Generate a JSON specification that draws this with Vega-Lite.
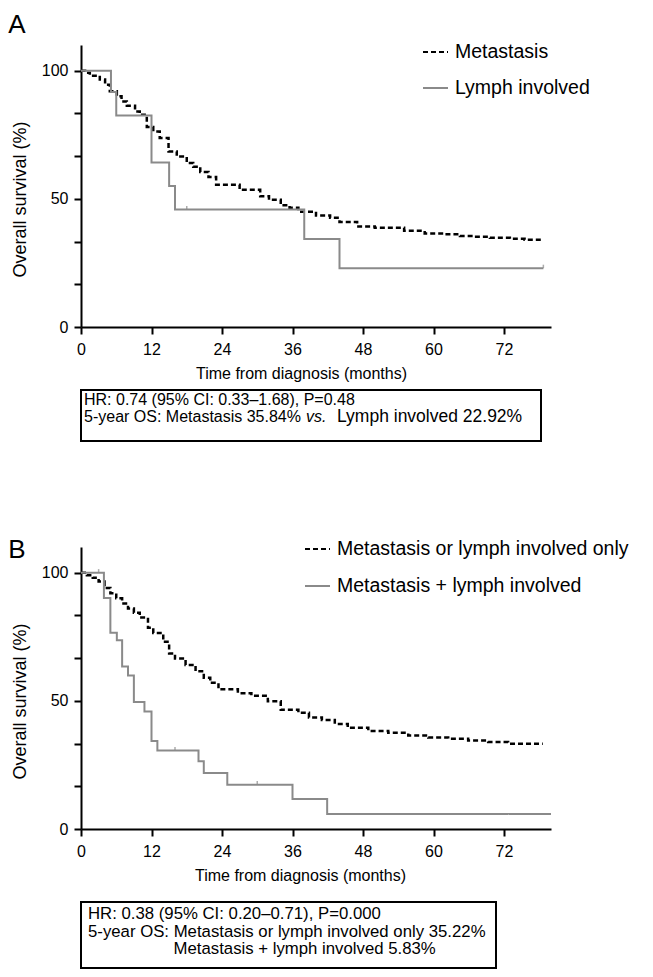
{
  "$schema": "https://vega.github.io/schema/vega-lite/v6.json",
  "background": "white",
  "padding": {"left": 8, "right": 5, "top": 12, "bottom": 5},
  "config": {
    "view": {"stroke": null},
    "font": "Liberation Sans",
    "axis": {
      "domainColor": "black", "domainWidth": 2, "tickColor": "black", "tickWidth": 2,
      "labelColor": "black", "titleColor": "black", "labelFont": "Liberation Sans", "titleFont": "Liberation Sans",
      "titleFontWeight": "normal", "grid": false, "labelFlush": false, "labelOverlap": false
    },
    "legend": {"labelFont": "Liberation Sans", "labelColor": "black", "labelLimit": 400},
    "title": {"font": "Liberation Sans", "fontWeight": "normal", "color": "black", "anchor": "start", "frame": "bounds", "fontSize": 26},
    "text": {"font": "Liberation Sans", "color": "black"}
  },
  "datasets": {
    "km": [
      {"panel":"A","group":"Metastasis","t":0,"s":100},
      {"panel":"A","group":"Metastasis","t":0.7,"s":99.2},
      {"panel":"A","group":"Metastasis","t":1.5,"s":98},
      {"panel":"A","group":"Metastasis","t":3.2,"s":96.5},
      {"panel":"A","group":"Metastasis","t":4.1,"s":94.5},
      {"panel":"A","group":"Metastasis","t":4.9,"s":92},
      {"panel":"A","group":"Metastasis","t":6.1,"s":90},
      {"panel":"A","group":"Metastasis","t":6.9,"s":88},
      {"panel":"A","group":"Metastasis","t":7.8,"s":86.3},
      {"panel":"A","group":"Metastasis","t":9.2,"s":84.1},
      {"panel":"A","group":"Metastasis","t":10,"s":82.8},
      {"panel":"A","group":"Metastasis","t":11.2,"s":78},
      {"panel":"A","group":"Metastasis","t":12.3,"s":76.3},
      {"panel":"A","group":"Metastasis","t":13.4,"s":73.7},
      {"panel":"A","group":"Metastasis","t":14.9,"s":68.5},
      {"panel":"A","group":"Metastasis","t":16.3,"s":66.5},
      {"panel":"A","group":"Metastasis","t":18,"s":64},
      {"panel":"A","group":"Metastasis","t":19.1,"s":62.5},
      {"panel":"A","group":"Metastasis","t":20.3,"s":60.5},
      {"panel":"A","group":"Metastasis","t":21.7,"s":58.5},
      {"panel":"A","group":"Metastasis","t":23,"s":55.5},
      {"panel":"A","group":"Metastasis","t":27,"s":53.5},
      {"panel":"A","group":"Metastasis","t":30.5,"s":51},
      {"panel":"A","group":"Metastasis","t":32,"s":49.6},
      {"panel":"A","group":"Metastasis","t":34,"s":47.5},
      {"panel":"A","group":"Metastasis","t":35.5,"s":46.5},
      {"panel":"A","group":"Metastasis","t":37,"s":45},
      {"panel":"A","group":"Metastasis","t":40,"s":43.5},
      {"panel":"A","group":"Metastasis","t":42.4,"s":42.6},
      {"panel":"A","group":"Metastasis","t":44,"s":41},
      {"panel":"A","group":"Metastasis","t":47,"s":39.2},
      {"panel":"A","group":"Metastasis","t":50,"s":38.7},
      {"panel":"A","group":"Metastasis","t":55,"s":37.5},
      {"panel":"A","group":"Metastasis","t":58.5,"s":36.5},
      {"panel":"A","group":"Metastasis","t":62,"s":36.2},
      {"panel":"A","group":"Metastasis","t":64.5,"s":35.5},
      {"panel":"A","group":"Metastasis","t":67,"s":35.2},
      {"panel":"A","group":"Metastasis","t":69.6,"s":34.8},
      {"panel":"A","group":"Metastasis","t":73,"s":34.4},
      {"panel":"A","group":"Metastasis","t":75.5,"s":34},
      {"panel":"A","group":"Metastasis","t":78.7,"s":34},
      {"panel":"A","group":"Lymph involved","t":0,"s":100},
      {"panel":"A","group":"Lymph involved","t":5.1,"s":91.67},
      {"panel":"A","group":"Lymph involved","t":6,"s":82.5},
      {"panel":"A","group":"Lymph involved","t":12,"s":64.17},
      {"panel":"A","group":"Lymph involved","t":15,"s":55},
      {"panel":"A","group":"Lymph involved","t":16,"s":45.83},
      {"panel":"A","group":"Lymph involved","t":38,"s":34.37},
      {"panel":"A","group":"Lymph involved","t":44,"s":22.92},
      {"panel":"A","group":"Lymph involved","t":78.7,"s":22.92},
      {"panel":"B","group":"Metastasis or lymph involved only","t":0,"s":100},
      {"panel":"B","group":"Metastasis or lymph involved only","t":1,"s":99},
      {"panel":"B","group":"Metastasis or lymph involved only","t":2,"s":98},
      {"panel":"B","group":"Metastasis or lymph involved only","t":3,"s":96.5},
      {"panel":"B","group":"Metastasis or lymph involved only","t":4,"s":94},
      {"panel":"B","group":"Metastasis or lymph involved only","t":5,"s":92},
      {"panel":"B","group":"Metastasis or lymph involved only","t":6,"s":90},
      {"panel":"B","group":"Metastasis or lymph involved only","t":7,"s":88},
      {"panel":"B","group":"Metastasis or lymph involved only","t":8,"s":86},
      {"panel":"B","group":"Metastasis or lymph involved only","t":9,"s":84.4},
      {"panel":"B","group":"Metastasis or lymph involved only","t":10,"s":82.5},
      {"panel":"B","group":"Metastasis or lymph involved only","t":11.4,"s":78.5},
      {"panel":"B","group":"Metastasis or lymph involved only","t":12.3,"s":76.5},
      {"panel":"B","group":"Metastasis or lymph involved only","t":14,"s":73},
      {"panel":"B","group":"Metastasis or lymph involved only","t":15,"s":68.5},
      {"panel":"B","group":"Metastasis or lymph involved only","t":16,"s":66.5},
      {"panel":"B","group":"Metastasis or lymph involved only","t":17.8,"s":64},
      {"panel":"B","group":"Metastasis or lymph involved only","t":19.5,"s":61.5},
      {"panel":"B","group":"Metastasis or lymph involved only","t":20.9,"s":59},
      {"panel":"B","group":"Metastasis or lymph involved only","t":22,"s":57},
      {"panel":"B","group":"Metastasis or lymph involved only","t":23.4,"s":54.5},
      {"panel":"B","group":"Metastasis or lymph involved only","t":26.7,"s":53},
      {"panel":"B","group":"Metastasis or lymph involved only","t":29,"s":52},
      {"panel":"B","group":"Metastasis or lymph involved only","t":31.8,"s":49.8},
      {"panel":"B","group":"Metastasis or lymph involved only","t":34,"s":46.5},
      {"panel":"B","group":"Metastasis or lymph involved only","t":37,"s":45.3},
      {"panel":"B","group":"Metastasis or lymph involved only","t":38.8,"s":43.5},
      {"panel":"B","group":"Metastasis or lymph involved only","t":41,"s":42.5},
      {"panel":"B","group":"Metastasis or lymph involved only","t":43.2,"s":41},
      {"panel":"B","group":"Metastasis or lymph involved only","t":45.4,"s":39.5},
      {"panel":"B","group":"Metastasis or lymph involved only","t":48.9,"s":38.2},
      {"panel":"B","group":"Metastasis or lymph involved only","t":52.3,"s":37.5},
      {"panel":"B","group":"Metastasis or lymph involved only","t":55.7,"s":36.5},
      {"panel":"B","group":"Metastasis or lymph involved only","t":59.1,"s":35.7},
      {"panel":"B","group":"Metastasis or lymph involved only","t":62.5,"s":35.2},
      {"panel":"B","group":"Metastasis or lymph involved only","t":65.9,"s":34.5},
      {"panel":"B","group":"Metastasis or lymph involved only","t":69.3,"s":33.9},
      {"panel":"B","group":"Metastasis or lymph involved only","t":72.7,"s":33.3},
      {"panel":"B","group":"Metastasis or lymph involved only","t":78.6,"s":33.3},
      {"panel":"B","group":"Metastasis + lymph involved","t":0,"s":100},
      {"panel":"B","group":"Metastasis + lymph involved","t":3.9,"s":90.1},
      {"panel":"B","group":"Metastasis + lymph involved","t":5,"s":76.6},
      {"panel":"B","group":"Metastasis + lymph involved","t":6.1,"s":73.6},
      {"panel":"B","group":"Metastasis + lymph involved","t":7,"s":63.4},
      {"panel":"B","group":"Metastasis + lymph involved","t":8,"s":59.9},
      {"panel":"B","group":"Metastasis + lymph involved","t":9,"s":49.5},
      {"panel":"B","group":"Metastasis + lymph involved","t":10.8,"s":45.8},
      {"panel":"B","group":"Metastasis + lymph involved","t":12,"s":34.3},
      {"panel":"B","group":"Metastasis + lymph involved","t":13,"s":30.6},
      {"panel":"B","group":"Metastasis + lymph involved","t":20,"s":26.4},
      {"panel":"B","group":"Metastasis + lymph involved","t":20.9,"s":21.8},
      {"panel":"B","group":"Metastasis + lymph involved","t":24.9,"s":17.3},
      {"panel":"B","group":"Metastasis + lymph involved","t":36,"s":11.7},
      {"panel":"B","group":"Metastasis + lymph involved","t":41.9,"s":5.83},
      {"panel":"B","group":"Metastasis + lymph involved","t":80,"s":5.83}
    ],
    "censor": [
      {"panel":"A","t":18,"s":45.83},
      {"panel":"A","t":78.7,"s":22.92},
      {"panel":"B","t":3,"s":100},
      {"panel":"B","t":16,"s":30.6},
      {"panel":"B","t":30,"s":17.3}
    ],
    "boxA": [
      {"line":1,"seg":"a","label":"HR: 0.74 (95% CI: 0.33–1.68), P=0.48"},
      {"line":2,"seg":"a","label":"5-year OS: Metastasis 35.84%"},
      {"line":2,"seg":"b","label":"vs."},
      {"line":2,"seg":"c","label":"Lymph involved 22.92%"}
    ],
    "boxB": [
      {"line":1,"seg":"a","label":"HR: 0.38 (95% CI: 0.20–0.71), P=0.000"},
      {"line":2,"seg":"a","label":"5-year OS: Metastasis or lymph involved only 35.22%"},
      {"line":3,"seg":"d","label":"Metastasis + lymph involved 5.83%"}
    ]
  },
  "resolve": {"scale": {"color": "independent", "strokeDash": "independent"}, "legend": {"color": "independent", "strokeDash": "independent"}},
  "spacing": 93,
  "vconcat": [
    {
      "spacing": 8,
      "vconcat": [
        {
          "title": {"text": "A", "offset": 7, "dx": -3},
          "width": 470,
          "height": 282,
          "layer": [
            {
              "data": {"name": "km"},
              "transform": [{"filter": "datum.panel === 'A'"}],
              "mark": {"type": "line", "interpolate": "step-after"},
              "encoding": {
                "x": {"field": "t", "type": "quantitative", "scale": {"domain": [0, 80], "nice": false, "zero": false},
                  "axis": {"values": [0,3,6,9,12,15,18,21,24,27,30,33,36,39,42,45,48,51,54,57,60,63,66,69,72,75,78],
                    "labelExpr": "datum.value % 12 === 0 ? datum.label : ''",
                    "tickSize": {"condition": {"test": "datum.value % 12 === 0", "value": 7}, "value": 4},
                    "labelFontSize": 16, "labelPadding": 7, "title": "Time from diagnosis (months)", "titleFontSize": 16, "titlePadding": 8, "titleX": 220}},
                "y": {"field": "s", "type": "quantitative", "scale": {"domain": [0, 110], "nice": false},
                  "axis": {"values": [0,16.667,33.333,50,66.667,83.333,100],
                    "labelExpr": "datum.value % 50 === 0 ? datum.label : ''",
                    "tickSize": 7, "labelFontSize": 16, "labelPadding": 6, "title": "Overall survival (%)", "titleFontSize": 18, "titlePadding": 12, "titleY": 154}},
                "strokeWidth": {"condition": {"test": "datum.group === 'Metastasis'", "value": 2.5}, "value": 2},
                "color": {"field": "group", "type": "nominal", "scale": {"domain": ["Metastasis", "Lymph involved"], "range": ["black", "#8a8a8a"]},
                  "legend": {"orient": "none", "legendX": 341, "legendY": -6.5, "title": null, "symbolType": "stroke", "symbolSize": 625, "symbolStrokeWidth": 2, "labelFontSize": 19.5, "labelOffset": 6, "rowPadding": 13, "padding": 0}},
                "strokeDash": {"field": "group", "type": "nominal", "scale": {"domain": ["Metastasis", "Lymph involved"], "range": [[5,3],[1,0]]},
                  "legend": {"orient": "none", "legendX": 341, "legendY": -6.5, "title": null, "symbolType": "stroke", "symbolSize": 625, "symbolStrokeWidth": 2, "labelFontSize": 19.5, "labelOffset": 6, "rowPadding": 13, "padding": 0}}
              }
            },
            {
              "data": {"name": "censor"},
              "transform": [{"filter": "datum.panel === 'A'"}],
              "mark": {"type": "point", "shape": "M0,-1L0,0", "size": 50, "filled": false, "stroke": "#8a8a8a", "strokeWidth": 1.5},
              "encoding": {"x": {"field": "t", "type": "quantitative"}, "y": {"field": "s", "type": "quantitative"}}
            }
          ]
        },
        {
          "width": 460,
          "height": 51,
          "view": {"stroke": "black", "strokeWidth": 2},
          "data": {"name": "boxA"},
          "encoding": {
            "y": {"field": "line", "type": "quantitative", "scale": {"domain": [0.4118, 3.4118], "reverse": true, "nice": false, "zero": false}, "axis": null},
            "text": {"field": "label"}
          },
          "layer": [
            {"transform": [{"filter": "datum.seg === 'a'"}], "mark": {"type": "text", "align": "left", "baseline": "middle", "fontSize": 16, "x": 3}},
            {"transform": [{"filter": "datum.seg === 'b'"}], "mark": {"type": "text", "align": "left", "baseline": "middle", "fontSize": 16, "fontStyle": "italic", "x": 225}},
            {"transform": [{"filter": "datum.seg === 'c'"}], "mark": {"type": "text", "align": "left", "baseline": "middle", "fontSize": 17.5, "x": 256}}
          ]
        }
      ]
    },
    {
      "spacing": 18,
      "vconcat": [
        {
          "title": {"text": "B", "offset": -16, "dx": -3},
          "width": 470,
          "height": 282,
          "layer": [
            {
              "data": {"name": "km"},
              "transform": [{"filter": "datum.panel === 'B'"}],
              "mark": {"type": "line", "interpolate": "step-after"},
              "encoding": {
                "x": {"field": "t", "type": "quantitative", "scale": {"domain": [0, 80], "nice": false, "zero": false},
                  "axis": {"values": [0,3,6,9,12,15,18,21,24,27,30,33,36,39,42,45,48,51,54,57,60,63,66,69,72,75,78],
                    "labelExpr": "datum.value % 12 === 0 ? datum.label : ''",
                    "tickSize": {"condition": {"test": "datum.value % 12 === 0", "value": 7}, "value": 4},
                    "labelFontSize": 16, "labelPadding": 7, "title": "Time from diagnosis (months)", "titleFontSize": 16, "titlePadding": 8, "titleX": 219}},
                "y": {"field": "s", "type": "quantitative", "scale": {"domain": [0, 110], "nice": false},
                  "axis": {"values": [0,16.667,33.333,50,66.667,83.333,100],
                    "labelExpr": "datum.value % 50 === 0 ? datum.label : ''",
                    "tickSize": 7, "labelFontSize": 16, "labelPadding": 6, "title": "Overall survival (%)", "titleFontSize": 18, "titlePadding": 12, "titleY": 154}},
                "strokeWidth": {"condition": {"test": "datum.group === 'Metastasis or lymph involved only'", "value": 2.5}, "value": 2},
                "color": {"field": "group", "type": "nominal", "scale": {"domain": ["Metastasis or lymph involved only", "Metastasis + lymph involved"], "range": ["black", "#8a8a8a"]},
                  "legend": {"orient": "none", "legendX": 223, "legendY": -11.5, "title": null, "symbolType": "stroke", "symbolSize": 625, "symbolStrokeWidth": 2, "labelFontSize": 19.5, "labelOffset": 6, "rowPadding": 14, "padding": 0}},
                "strokeDash": {"field": "group", "type": "nominal", "scale": {"domain": ["Metastasis or lymph involved only", "Metastasis + lymph involved"], "range": [[5,3],[1,0]]},
                  "legend": {"orient": "none", "legendX": 223, "legendY": -11.5, "title": null, "symbolType": "stroke", "symbolSize": 625, "symbolStrokeWidth": 2, "labelFontSize": 19.5, "labelOffset": 6, "rowPadding": 14, "padding": 0}}
              }
            },
            {
              "data": {"name": "censor"},
              "transform": [{"filter": "datum.panel === 'B'"}],
              "mark": {"type": "point", "shape": "M0,-1L0,0", "size": 50, "filled": false, "stroke": "#8a8a8a", "strokeWidth": 1.5},
              "encoding": {"x": {"field": "t", "type": "quantitative"}, "y": {"field": "s", "type": "quantitative"}}
            }
          ]
        },
        {
          "width": 415,
          "height": 66,
          "view": {"stroke": "black", "strokeWidth": 2},
          "data": {"name": "boxB"},
          "encoding": {
            "y": {"field": "line", "type": "quantitative", "scale": {"domain": [0.2775, 4.0925], "reverse": true, "nice": false, "zero": false}, "axis": null},
            "text": {"field": "label"}
          },
          "layer": [
            {"transform": [{"filter": "datum.seg === 'a'"}], "mark": {"type": "text", "align": "left", "baseline": "middle", "fontSize": 16.75, "x": 7}},
            {"transform": [{"filter": "datum.seg === 'd'"}], "mark": {"type": "text", "align": "left", "baseline": "middle", "fontSize": 16.75, "x": 92.6}}
          ]
        }
      ]
    }
  ]
}
